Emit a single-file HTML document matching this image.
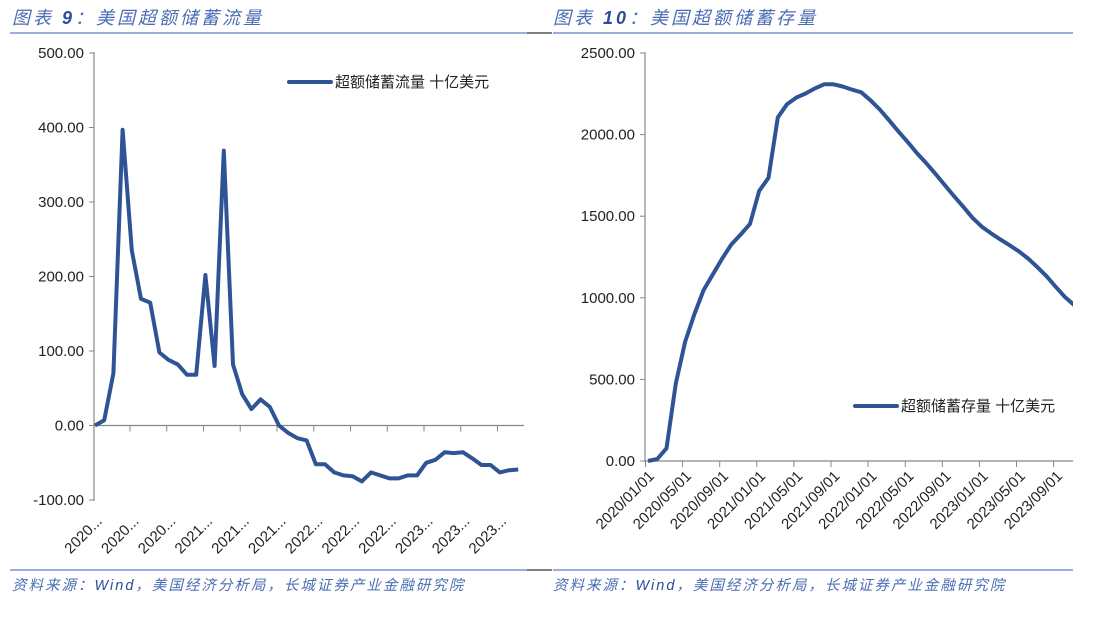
<!DOCTYPE html>
<html><head><meta charset="utf-8"><style>
body{margin:0;background:#fff;width:1105px;height:624px;overflow:hidden;font-family:"Liberation Sans","Noto Sans CJK SC",sans-serif}
svg text{font-family:"Liberation Sans","Noto Sans CJK SC",sans-serif}
</style></head><body>
<svg width="1105" height="624" id="fig">
<g>
<text x="12" y="24" font-size="18" font-style="italic" letter-spacing="3" fill="#4a6db3">图表 <tspan font-weight="bold" fill="#2b4c99">9</tspan>：美国超额储蓄流量</text>
<line x1="10" y1="33" x2="527" y2="33" stroke="#5b7fc0" stroke-width="1.2"/>
<line x1="527" y1="33" x2="552" y2="33" stroke="#333" stroke-width="1.2"/>
</g>
<g>
<text x="553" y="24" font-size="18" font-style="italic" letter-spacing="3" fill="#4a6db3">图表 <tspan font-weight="bold" fill="#2b4c99">10</tspan>：美国超额储蓄存量</text>
<line x1="553" y1="33" x2="1073" y2="33" stroke="#5b7fc0" stroke-width="1.2"/>
</g>
<line x1="10" y1="570" x2="527" y2="570" stroke="#5b7fc0" stroke-width="1.2"/>
<line x1="527" y1="570" x2="552" y2="570" stroke="#333" stroke-width="1.2"/>
<line x1="553" y1="570" x2="1073" y2="570" stroke="#5b7fc0" stroke-width="1.2"/>
<text x="12" y="590" font-size="14.5" font-style="italic" letter-spacing="2" fill="#4a6db3">资料来源：<tspan fill="#2b4c99">Wind</tspan>，美国经济分析局，长城证券产业金融研究院</text>
<text x="553" y="590" font-size="14.5" font-style="italic" letter-spacing="2" fill="#4a6db3">资料来源：<tspan fill="#2b4c99">Wind</tspan>，美国经济分析局，长城证券产业金融研究院</text>
<g id="left"></g>
<g id="right"></g>
</svg>
<script>
const flowValues=[0,7,70,397,235,170,165,98,88,82,68,68,202,80,369,82,42,22,35,25,0,-10,-17,-20,-52,-52,-63,-67,-68,-75,-63,-67,-71,-71,-67,-67,-50,-46,-36,-37,-36,-44,-53,-53,-63,-60,-59];
const flowTicks=[-100,0,100,200,300,400,500];
const flowXLabels=["2020...","2020...","2020...","2021...","2021...","2021...","2022...","2022...","2022...","2023...","2023...","2023..."];
const stockValues=[0,12,78,475,730,900,1047,1144,1241,1327,1388,1453,1655,1735,2105,2186,2227,2252,2283,2308,2308,2295,2276,2259,2210,2154,2088,2020,1955,1887,1826,1760,1692,1624,1558,1490,1436,1395,1358,1322,1285,1241,1188,1132,1066,1003,954];
const stockTicks=[0,500,1000,1500,2000,2500];
const stockXLabels=["2020/01/01","2020/05/01","2020/09/01","2021/01/01","2021/05/01","2021/09/01","2022/01/01","2022/05/01","2022/09/01","2023/01/01","2023/05/01","2023/09/01"];
const NS="http://www.w3.org/2000/svg";
function mk(p,t,a){const e=document.createElementNS(NS,t);for(const k in a)e.setAttribute(k,a[k]);p.appendChild(e);return e;}
function chart(g,cfg){
  const y=v=>cfg.y0+(v-cfg.vmin)/(cfg.vmax-cfg.vmin)*(cfg.y1-cfg.y0);
  const x=i=>cfg.px0+i*cfg.step;
  const zy=y(0);
  const ax=mk(g,'line',{x1:cfg.ax,y1:cfg.y1-1,x2:cfg.ax,y2:cfg.y0+1,stroke:'#888','stroke-width':1.2});
  
  
  cfg.ticks.forEach(t=>{
    mk(g,'line',{x1:cfg.ax-5,y1:y(t),x2:cfg.ax,y2:y(t),stroke:'#888'});
    const tx=mk(g,'text',{x:cfg.ax-10,y:y(t)+5,'text-anchor':'end','font-size':15,fill:'#222'});
    tx.textContent=t.toFixed(2);
    
    
  });
  const xa=mk(g,'line',{x1:cfg.ax,y1:zy,x2:cfg.xend,y2:zy,stroke:'#888','stroke-width':1.2});
  
  
  for(let i=0;i<cfg.nTicks;i++){const tx0=cfg.tick0+i*cfg.tickStep;mk(g,'line',{x1:tx0,y1:zy,x2:tx0,y2:zy+6,stroke:'#888'});}
  cfg.labels.forEach((l,i)=>{
    const lx=cfg.lab0+i*cfg.tickStep, ly=cfg.laby;
    const t=mk(g,'text',{x:lx,y:ly,'text-anchor':'end','font-size':15,fill:'#222',transform:`rotate(-45 ${lx} ${ly})`});
    t.textContent=l;
    
    
  });
  const cp=mk(g,'clipPath',{id:cfg.id+'c'});mk(cp,'rect',{x:cfg.ax,y:0,width:cfg.xend-cfg.ax,height:624});
  const pts=cfg.values.map((v,i)=>x(i).toFixed(1)+','+y(v).toFixed(1)).join(' ');
  const pl=mk(g,'polyline',{points:pts,fill:'none',stroke:'#2f5496','stroke-width':4,'stroke-linejoin':'round','clip-path':`url(#${cfg.id}c)`});
  
  
  const lg=mk(g,'g',{});
  
  
  mk(lg,'line',{x1:cfg.lgx,y1:cfg.lgy,x2:cfg.lgx+42,y2:cfg.lgy,stroke:'#2f5496','stroke-width':4,'stroke-linecap':'round'});
  const lt=mk(lg,'text',{x:cfg.lgx+46,y:cfg.lgy+5,'font-size':15,fill:'#222'});lt.textContent=cfg.legend;
}
chart(document.getElementById('left'),{id:'l',values:flowValues,ticks:flowTicks,labels:flowXLabels,vmin:-100,vmax:500,y0:500,y1:53,ax:94,xend:524,px0:95,step:9.2,tick0:130,tickStep:36.75,nTicks:11,lab0:103,laby:522,lgx:289,lgy:82,legend:'超额储蓄流量 十亿美元'});
chart(document.getElementById('right'),{id:'r',values:stockValues,ticks:stockTicks,labels:stockXLabels,vmin:0,vmax:2500,y0:461,y1:53,ax:645,xend:1073,px0:648,step:9.27,tick0:645.5,tickStep:37.1,nTicks:12,lab0:655,laby:477,lgx:855,lgy:406,legend:'超额储蓄存量 十亿美元'});
</script>
</body></html>
